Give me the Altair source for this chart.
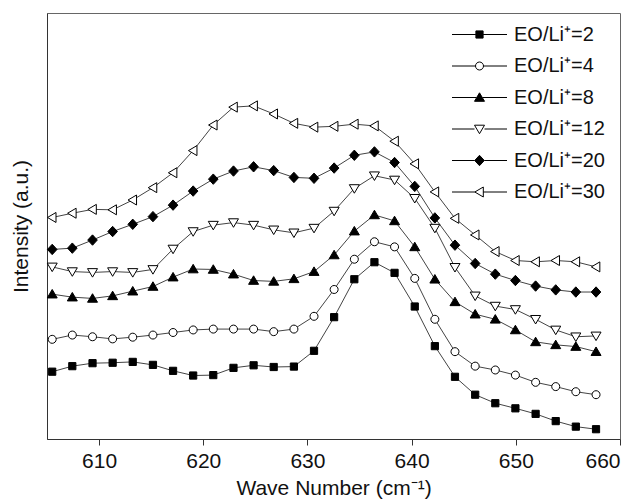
import altair as alt
import pandas as pd

FONT = "Liberation Sans"

wave_number = [605.50, 607.43, 609.37, 611.30, 613.23, 615.17, 617.10, 619.03,
               620.96, 622.90, 624.83, 626.76, 628.70, 630.63, 632.56, 634.50,
               636.43, 638.36, 640.30, 642.23, 644.16, 646.10, 648.03, 649.96,
               651.90, 653.83, 655.76, 657.70]

series_names = ["EO/Li⁺=2", "EO/Li⁺=4", "EO/Li⁺=8", "EO/Li⁺=12", "EO/Li⁺=20", "EO/Li⁺=30"]

eo_2 = [15.8, 17.1, 17.8, 17.9, 18.1, 17.4, 16.0, 14.9, 15.0, 16.7, 17.3, 16.9, 17.0, 20.7,
        28.6, 37.5, 41.5, 39.0, 31.1, 21.8, 14.6, 10.4, 8.4, 7.2, 5.9, 4.2, 2.9, 2.3]
eo_4 = [23.4, 24.4, 24.0, 23.5, 23.9, 24.4, 25.0, 25.6, 25.8, 25.8, 25.8, 25.2, 25.8, 28.8,
        35.1, 42.2, 46.3, 45.1, 37.7, 28.1, 20.5, 17.1, 16.2, 15.0, 13.3, 12.3, 11.1, 10.4]
eo_8 = [34.0, 33.3, 33.0, 33.6, 34.7, 35.8, 38.0, 39.9, 39.8, 38.7, 37.2, 37.0, 37.6, 39.3,
        43.2, 48.8, 52.6, 51.2, 45.1, 37.5, 32.2, 29.3, 28.1, 25.6, 22.8, 22.1, 21.7, 20.5]
eo_12 = [40.4, 39.3, 39.1, 39.3, 39.1, 39.8, 44.6, 48.7, 50.2, 50.8, 50.2, 49.1, 48.4, 49.5,
         53.5, 58.8, 61.8, 60.8, 56.5, 49.5, 40.3, 33.6, 31.2, 30.4, 28.1, 25.6, 24.0, 24.2]
eo_20 = [44.5, 44.8, 46.7, 48.7, 50.4, 52.2, 54.9, 58.2, 61.0, 62.9, 63.9, 63.0, 61.4, 61.2,
         63.6, 66.6, 67.4, 64.9, 59.3, 51.9, 45.5, 41.2, 38.7, 37.2, 35.9, 35.0, 34.5, 34.5]
eo_30 = [52.0, 53.0, 53.9, 53.8, 56.1, 59.0, 62.5, 67.7, 73.7, 77.9, 78.2, 76.3, 74.1, 73.2,
         73.4, 73.9, 73.5, 69.9, 64.6, 58.0, 51.8, 47.9, 44.0, 41.9, 41.6, 41.9, 41.6, 40.4]

x_ticks = [610, 620, 630, 640, 650, 660]

rows = []
for name, vals in zip(series_names, [eo_2, eo_4, eo_8, eo_12, eo_20, eo_30]):
    for xv, yv in zip(wave_number, vals):
        rows.append({"wave": xv, "intensity": yv, "series": name})
df = pd.DataFrame(rows)

# marker shapes (unit space; size 400 -> 10 px per unit)
m_square = "M-0.36,-0.36L0.36,-0.36L0.36,0.36L-0.36,0.36Z"
m_circle = "M0.4,0A0.4,0.4,0,1,1,-0.4,0A0.4,0.4,0,1,1,0.4,0Z"
m_tri_up = "M0,-0.47L0.5,0.38L-0.5,0.38Z"
m_tri_down = "M0,0.47L0.5,-0.38L-0.5,-0.38Z"
m_diamond = "M0,-0.52L0.48,0L0,0.52L-0.48,0Z"
m_tri_left = "M-0.47,0L0.38,-0.5L0.38,0.5Z"
marker_paths = [m_square, m_circle, m_tri_up, m_tri_down, m_diamond, m_tri_left]

def with_line(path, left, right):
    return f"M-2.75,0L{left},0M{right},0L2.75,0" + path

legend_paths = [
    with_line(m_square, -0.36, 0.36),
    with_line(m_circle, -0.4, 0.4),
    with_line(m_tri_up, -0.3, 0.3),
    with_line(m_tri_down, -0.5, 0.5),
    with_line(m_diamond, -0.48, 0.48),
    with_line(m_tri_left, -0.47, 0.38),
]
fills = ["black", "white", "black", "white", "black", "white"]
strokes = ["black"] * 6

x_enc = alt.X("wave:Q",
              scale=alt.Scale(domain=[605, 660], nice=False, zero=False),
              axis=alt.Axis(values=x_ticks, title="Wave Number (cm⁻¹)", grid=False,
                            format="d", tickSize=6, labelPadding=5, titlePadding=6))
y_enc = alt.Y("intensity:Q",
              scale=alt.Scale(domain=[0, 100], nice=False),
              axis=alt.Axis(ticks=False, labels=False, grid=False,
                            title="Intensity (a.u.)", titlePadding=16))

lines = alt.Chart(df).mark_line(color="#444", strokeWidth=1).encode(
    x=x_enc, y=y_enc, detail="series:N"
)

points = alt.Chart(df).mark_point(
    filled=True, stroke="black", strokeWidth=1, size=400, opacity=1
).encode(
    x=x_enc, y=y_enc,
    shape=alt.Shape("series:N", scale=alt.Scale(domain=series_names, range=marker_paths), legend=None),
    fill=alt.Fill("series:N", scale=alt.Scale(domain=series_names, range=fills), legend=None),
)

leg = alt.Legend(title=None, orient="none", legendX=422, legendY=11, padding=0,
                 labelFont=FONT, labelFontSize=20, labelColor="#111", labelLimit=300,
                 symbolSize=400, symbolStrokeWidth=1,
                 labelOffset=24, rowPadding=10.5)

legend_layer = alt.Chart(df).transform_filter("false").mark_point(
    filled=True, strokeWidth=1, size=400, opacity=1
).encode(
    x=x_enc, y=y_enc,
    shape=alt.Shape("series:N", scale=alt.Scale(domain=series_names, range=legend_paths), legend=leg),
    fill=alt.Fill("series:N", scale=alt.Scale(domain=series_names, range=fills), legend=leg),
    stroke=alt.Stroke("series:N", scale=alt.Scale(domain=series_names, range=strokes), legend=leg),
)

chart = alt.layer(lines, points, legend_layer).resolve_scale(
    shape="independent", fill="independent", stroke="independent"
).properties(
    width=573, height=426,
    padding={"left": 47, "top": 13, "right": 20, "bottom": 65},
    autosize="none",
).configure_view(
    stroke="#666", strokeWidth=1
).configure_axis(
    domainColor="#333", tickColor="#333", labelColor="#111", titleColor="#111",
    labelFont=FONT, titleFont=FONT, labelFontSize=21, titleFontSize=21,
    titleFontWeight="normal",
)

chart.save("out.html", embed_options={"renderer": "svg", "actions": False})
